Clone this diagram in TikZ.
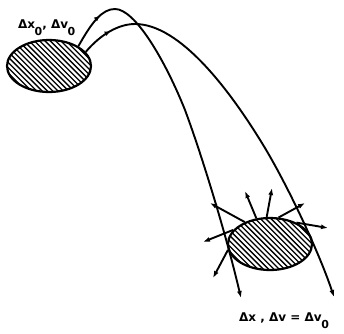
\documentclass[tikz,border=0pt]{standalone}
\usepackage{fontspec}
\newfontfamily\lblfont{DejaVu Sans}
\usetikzlibrary{shapes.geometric,arrows.meta,decorations.markings}
\newcommand\lowzero{\kern-0.5pt\raisebox{-7pt}{\fontsize{11}{11}\selectfont 0}}
\begin{document}
\begin{tikzpicture}[x=1pt,y=-1pt,
  blob/.style={ellipse, draw, line width=2.2pt, minimum width=84pt, minimum height=52pt, inner sep=0pt,
    path picture={\foreach \k in {-11,...,17}{\draw[line width=1.3pt] ([xshift=\k*5.3pt]path picture bounding box.north west) -- ++(60pt,-60pt);}}},
  tip/.style={-{Latex[length=7pt,width=5pt]}},
  traj/.style={line width=1.9pt, tip},
  ray/.style={line width=1.9pt, tip},
  midtip/.style={postaction={decorate}, decoration={markings, mark=at position #1 with {\arrow{Latex[length=6pt,width=5pt]}}}},
  lbl/.style={font={\lblfont\bfseries\fontsize{12}{14}\selectfont}, inner sep=0pt, anchor=base west}]
\useasboundingbox (0,0) rectangle (344,333);

\node[blob] (e1) at (49,66) {};
\node[blob] (e2) at (270,244) {};

\coordinate (t1) at (241,298);
\coordinate (t2) at (334,297);

\draw[traj, midtip=0.1]
  (e1.34) .. controls (92,22) and (102,9) .. (115,9)
          .. controls (135,9) and (165,60) .. (185,110)
          .. controls (200,150) and (225,230) .. (t1);

\draw[traj, midtip=0.08]
  (e1.21) .. controls (100,35) and (118,24) .. (135,24)
          .. controls (180,24) and (230,90) .. (265,148)
          .. controls (290,190) and (320,255) .. (t2);

\coordinate (r1) at (210,203);
\coordinate (r2) at (245,191);
\coordinate (r3) at (272,188);
\coordinate (r4) at (305,203);
\coordinate (r5) at (328,228);
\coordinate (r6) at (203,242);
\coordinate (r7) at (213,278);
\draw[ray] (e2.139) -- (r1);
\draw[ray] (e2.118) -- (r2);
\draw[ray] (e2.97) -- (r3);
\draw[ray] (e2.72) -- (r4);
\draw[ray] (e2.39) -- (r5);
\draw[ray] (e2.159) -- (r6);
\draw[ray] (e2.188) -- (r7);

\node[lbl] (lab0) at (18,28) {Δx\lowzero, Δv\lowzero};
\node[lbl] (lab1) at (239,321) {Δx , Δv = Δv\lowzero};
\end{tikzpicture}
\end{document}
